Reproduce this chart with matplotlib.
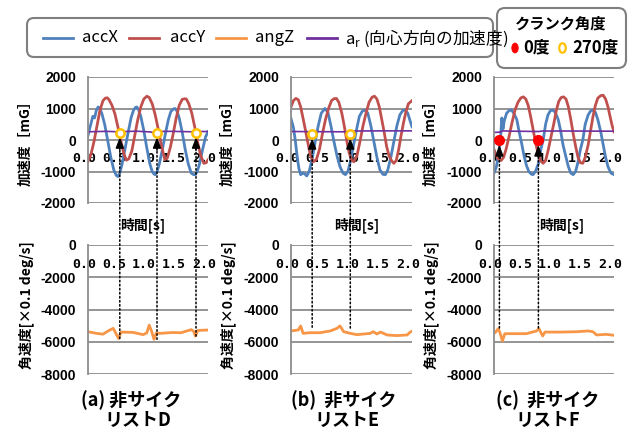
import matplotlib
matplotlib.use('Agg')
import matplotlib.pyplot as plt
from matplotlib.patches import FancyBboxPatch, Ellipse, ConnectionPatch
from matplotlib.lines import Line2D
from matplotlib.transforms import Affine2D, ScaledTranslation

plt.rcParams['font.family'] = ['Noto Sans CJK JP', 'DejaVu Sans']
plt.rcParams['axes.unicode_minus'] = False

# ---------------- data ----------------
panel_captions = [("(a) 非サイク", "リストD"), ("(b)  非サイク", "リストE"), ("(c)  非サイク", "リストF")]
legend_labels = ["accX", "accY", "angZ", "a$_\\mathregular{r}$ (向心方向の加速度)"]
crank_title = "クランク角度"
crank_labels = ["0度", "270度"]
xtick_vals = [0.0, 0.5, 1.0, 1.5, 2.0]
xtick_labels = ["0.0", "0.5", "1.0", "1.5", "2.0"]
acc_ticks = [2000, 1000, 0, -1000, -2000]
acc_tick_labels = ["2000", "1000", "0", "-1000", "-2000"]
ang_ticks = [0, -2000, -4000, -6000, -8000]
ang_tick_labels = ["0", "-2000", "-4000", "-6000", "-8000"]

# panel (a)
accX_a_t = [0.00, 0.04, 0.08, 0.11, 0.14, 0.17, 0.20, 0.23, 0.28, 0.33, 0.38, 0.43, 0.47, 0.50, 0.53, 0.57, 0.62, 0.67, 0.72, 0.76, 0.79, 0.81, 0.84, 0.88, 0.93, 0.98, 1.03, 1.07, 1.10, 1.12, 1.15, 1.19, 1.24, 1.29, 1.34, 1.38, 1.42, 1.45, 1.48, 1.52, 1.57, 1.62, 1.67, 1.72, 1.76, 1.79, 1.82, 1.86, 1.91, 1.96, 2.00]
accX_a_v = [150, 450, 750, 700, 950, 1050, 980, 850, 480, -30, -550, -950, -1120, -1160, -1050, -750, -250, 250, 720, 950, 1030, 1050, 980, 750, 300, -250, -750, -1000, -1080, -1100, -1020, -750, -300, 200, 650, 900, 980, 1000, 930, 700, 250, -300, -750, -1050, -1100, -1100, -1000, -750, -300, 100, 260]
accY_a_t = [0.00, 0.05, 0.10, 0.15, 0.20, 0.25, 0.29, 0.32, 0.35, 0.40, 0.45, 0.50, 0.55, 0.60, 0.64, 0.68, 0.73, 0.78, 0.83, 0.88, 0.93, 0.98, 1.02, 1.07, 1.12, 1.17, 1.22, 1.28, 1.32, 1.37, 1.42, 1.47, 1.52, 1.57, 1.61, 1.64, 1.68, 1.73, 1.78, 1.83, 1.88, 1.93, 1.97, 2.00]
accY_a_v = [-680, -450, -50, 450, 950, 1250, 1330, 1340, 1280, 1100, 820, 400, -50, -450, -640, -600, -350, 150, 650, 1050, 1300, 1390, 1350, 1150, 800, 350, -150, -620, -580, -250, 200, 700, 1100, 1290, 1310, 1300, 1150, 850, 400, -100, -500, -740, -720, -630]
ar_a_t = [0.00, 0.30, 0.45, 0.50, 0.55, 0.80, 1.05, 1.10, 1.15, 1.40, 1.75, 1.80, 1.85, 2.00]
ar_a_v = [260, 275, 265, 230, 265, 280, 255, 220, 270, 275, 260, 235, 270, 270]
angZ_a_t = [0.00, 0.14, 0.25, 0.35, 0.42, 0.46, 0.51, 0.55, 0.75, 0.92, 0.98, 1.02, 1.06, 1.10, 1.14, 1.20, 1.40, 1.55, 1.72, 1.76, 1.79, 1.83, 2.00]
angZ_a_v = [-5380, -5480, -5530, -5300, -5170, -5450, -5800, -5400, -5420, -5560, -5450, -4970, -5350, -5850, -5450, -5480, -5430, -5440, -5250, -5350, -5650, -5300, -5270]
mark_a_t = [0.53, 1.15, 1.80]
mark_a_v = [230, 230, 230]
arrow_a_tip = [90, 90, 90]
arrow_a_bottom = [-5800, -5850, -5650]

# panel (b)
accX_b_t = [0.00, 0.04, 0.07, 0.10, 0.13, 0.16, 0.20, 0.23, 0.26, 0.30, 0.35, 0.40, 0.45, 0.50, 0.56, 0.61, 0.66, 0.71, 0.76, 0.81, 0.86, 0.90, 0.94, 0.98, 1.03, 1.08, 1.13, 1.18, 1.23, 1.27, 1.32, 1.37, 1.42, 1.47, 1.52, 1.56, 1.60, 1.65, 1.70, 1.75, 1.80, 1.85, 1.89, 1.93, 1.97, 2.00]
accX_b_v = [680, 400, 0, -500, -900, -1100, -1050, -1080, -1140, -1000, -600, -50, 450, 850, 1000, 880, 450, -50, -500, -850, -1050, -1100, -1000, -700, -200, 300, 750, 920, 950, 850, 450, -50, -550, -950, -1090, -1100, -950, -550, -50, 450, 800, 940, 950, 850, 600, 420]
accY_b_t = [0.00, 0.04, 0.08, 0.12, 0.16, 0.20, 0.24, 0.28, 0.32, 0.37, 0.42, 0.47, 0.52, 0.57, 0.62, 0.67, 0.71, 0.75, 0.79, 0.84, 0.88, 0.92, 0.96, 1.00, 1.04, 1.09, 1.14, 1.19, 1.24, 1.29, 1.34, 1.38, 1.42, 1.46, 1.50, 1.54, 1.58, 1.62, 1.66, 1.70, 1.74, 1.78, 1.82, 1.86, 1.90, 1.94, 2.00]
accY_b_v = [1050, 1250, 1320, 1280, 1050, 680, 300, -100, -480, -690, -620, -300, 200, 650, 1000, 1250, 1310, 1320, 1200, 850, 450, 0, -400, -640, -690, -500, -50, 450, 850, 1200, 1360, 1390, 1300, 1050, 650, 250, -200, -500, -650, -740, -650, -300, 150, 550, 900, 1150, 1250]
ar_b_t = [0.00, 0.30, 0.35, 0.40, 0.90, 0.98, 1.05, 1.50, 2.00]
ar_b_v = [270, 265, 240, 265, 260, 245, 285, 290, 290]
angZ_b_t = [0.00, 0.12, 0.16, 0.20, 0.31, 0.48, 0.65, 0.76, 0.81, 0.87, 0.98, 1.09, 1.31, 1.36, 1.42, 1.48, 1.59, 1.75, 1.92, 1.97, 2.00]
angZ_b_v = [-5330, -5270, -5020, -5480, -5440, -5440, -5330, -5170, -5020, -5375, -5480, -5560, -5480, -5375, -5520, -5400, -5580, -5620, -5580, -5400, -5350]
mark_b_t = [0.35, 0.98]
mark_b_v = [200, 200]
arrow_b_tip = [60, 60]
arrow_b_bottom = [-5100, -5150]

# panel (c)
accX_c_t = [0.00, 0.04, 0.08, 0.11, 0.13, 0.15, 0.17, 0.21, 0.25, 0.29, 0.33, 0.38, 0.42, 0.46, 0.50, 0.54, 0.58, 0.62, 0.65, 0.69, 0.74, 0.78, 0.82, 0.86, 0.90, 0.94, 0.98, 1.02, 1.07, 1.11, 1.15, 1.20, 1.24, 1.28, 1.32, 1.36, 1.40, 1.44, 1.48, 1.52, 1.57, 1.61, 1.65, 1.69, 1.73, 1.78, 1.82, 1.86, 1.90, 1.95, 2.00]
accX_c_v = [-1050, -850, -400, 100, 700, 350, 600, 850, 930, 950, 850, 650, 250, -100, -500, -800, -1000, -1080, -1100, -1000, -750, -300, 0, 500, 800, 930, 950, 880, 650, 300, -150, -550, -850, -1050, -1100, -1000, -700, -300, 0, 500, 800, 920, 950, 880, 650, 250, -150, -550, -850, -1050, -1100]
accY_c_t = [0.00, 0.04, 0.08, 0.12, 0.16, 0.20, 0.25, 0.30, 0.35, 0.40, 0.45, 0.49, 0.53, 0.57, 0.61, 0.65, 0.69, 0.73, 0.77, 0.82, 0.86, 0.90, 0.95, 1.00, 1.04, 1.08, 1.12, 1.16, 1.20, 1.24, 1.28, 1.32, 1.36, 1.40, 1.44, 1.48, 1.52, 1.57, 1.61, 1.65, 1.69, 1.73, 1.78, 1.82, 1.86, 1.90, 1.94, 1.97, 2.00]
accY_c_v = [-300, -500, -620, -650, -550, -300, 100, 550, 950, 1200, 1340, 1370, 1300, 1100, 750, 350, -50, -400, -650, -740, -650, -350, 100, 550, 950, 1230, 1350, 1370, 1300, 1050, 650, 200, -200, -550, -720, -740, -550, -150, 300, 750, 1100, 1330, 1410, 1420, 1300, 1050, 700, 450, 260]
ar_c_t = [0.00, 0.10, 0.15, 0.30, 0.75, 0.80, 1.20, 2.00]
ar_c_v = [240, 250, 290, 280, 270, 285, 285, 280]
angZ_c_t = [0.00, 0.02, 0.07, 0.10, 0.14, 0.18, 0.32, 0.54, 0.71, 0.75, 0.81, 0.85, 1.10, 1.37, 1.57, 1.65, 1.71, 1.87, 2.00]
angZ_c_v = [-5450, -5440, -5190, -5440, -5950, -5500, -5500, -5500, -5330, -5190, -5640, -5400, -5400, -5380, -5330, -5380, -5580, -5540, -5600]
mark_c_t = [0.09, 0.74]
mark_c_v = [0, 0]
arrow_c_tip = [-160, -160]
arrow_c_bottom = [-5150, -5150]

# ---------------- style ----------------
C_X = "#4F81BD"
C_Y = "#C0504D"
C_Z = "#F79646"
C_R = "#7030A0"
GRID = "#8C8C8C"
W, H = 632, 430

fig = plt.figure(figsize=(W / 100, H / 100), dpi=100)
P = Affine2D().scale(0.01) + fig.dpi_scale_trans  # pixel coords (origin bottom-left)

lefts = [88, 291, 494]
rights = [208, 412, 614]
ylab_x = [25, 227, 430]
time_lab_x = [143, 357, 562]
cap1_x = [131, 344, 548]
cap2_x = [138, 347, 548]

panels = [
    dict(ax_t=accX_a_t, ax_v=accX_a_v, ay_t=accY_a_t, ay_v=accY_a_v, ar_t=ar_a_t, ar_v=ar_a_v,
         az_t=angZ_a_t, az_v=angZ_a_v, mt=mark_a_t, mv=mark_a_v, tip=arrow_a_tip, bot=arrow_a_bottom, kind=270),
    dict(ax_t=accX_b_t, ax_v=accX_b_v, ay_t=accY_b_t, ay_v=accY_b_v, ar_t=ar_b_t, ar_v=ar_b_v,
         az_t=angZ_b_t, az_v=angZ_b_v, mt=mark_b_t, mv=mark_b_v, tip=arrow_b_tip, bot=arrow_b_bottom, kind=270),
    dict(ax_t=accX_c_t, ax_v=accX_c_v, ay_t=accY_c_t, ay_v=accY_c_v, ar_t=ar_c_t, ar_v=ar_c_v,
         az_t=angZ_c_t, az_v=angZ_c_v, mt=mark_c_t, mv=mark_c_v, tip=arrow_c_tip, bot=arrow_c_bottom, kind=0),
]


def style_axes(ax, yt, ylabs, ylim):
    ax.set_xlim(0, 2.0)
    ax.set_ylim(*ylim)
    for s in ['top', 'right', 'bottom']:
        ax.spines[s].set_visible(False)
    ax.spines['left'].set_color(GRID)
    ax.spines['left'].set_linewidth(1.3)
    ax.set_yticks(yt)
    ax.set_yticklabels(ylabs, fontfamily='Liberation Sans', fontweight='bold', fontsize=10)
    ax.tick_params(axis='y', length=0, pad=8.6)
    ax.set_xticks([])
    ax.grid(axis='y', color=GRID, lw=1.3)
    ax.set_axisbelow(True)
    ax.patch.set_alpha(0)
    off = ScaledTranslation(-4 / 100, -19 / 100, fig.dpi_scale_trans)
    for v, lab in zip(xtick_vals, xtick_labels):
        ax.text(v, 0, lab, transform=ax.transData + off, ha='center', va='center',
                fontfamily='DejaVu Sans Mono', fontweight='bold', fontsize=9.5, zorder=1.5)


for i, pnl in enumerate(panels):
    L, R = lefts[i], rights[i]
    ax_top = fig.add_axes([L / W, 1 - 203 / H, (R - L) / W, 126 / H])
    ax_bot = fig.add_axes([L / W, 1 - 374 / H, (R - L) / W, 129 / H])
    style_axes(ax_top, acc_ticks, acc_tick_labels, (-2000, 2000))
    style_axes(ax_bot, ang_ticks, ang_tick_labels, (-8000, 0))

    ax_top.plot(pnl['ax_t'], pnl['ax_v'], color=C_X, lw=2.0, zorder=2)
    ax_top.plot(pnl['ay_t'], pnl['ay_v'], color=C_Y, lw=2.0, zorder=2.1)
    ax_top.plot(pnl['ar_t'], pnl['ar_v'], color=C_R, lw=1.2, zorder=2.2)
    ax_bot.plot(pnl['az_t'], pnl['az_v'], color=C_Z, lw=2.0, zorder=2)

    # arrows
    for t, tip, bot in zip(pnl['mt'], pnl['tip'], pnl['bot']):
        con = ConnectionPatch(xyA=(t, bot), coordsA=ax_bot.transData,
                              xyB=(t, tip - 250), coordsB=ax_top.transData,
                              color='k', lw=1.1, linestyle=':', zorder=3)
        fig.add_artist(con)
        ax_top.annotate('', xy=(t, tip), xytext=(t, tip - 420),
                        arrowprops=dict(arrowstyle='-|>,head_length=0.65,head_width=0.25',
                                        color='k', lw=1.0, shrinkA=0, shrinkB=0), zorder=3)
    # markers
    if pnl['kind'] == 270:
        ax_top.plot(pnl['mt'], pnl['mv'], ls='none', marker='o', ms=6, mfc='white',
                    mec='#FFC000', mew=1.8, zorder=4)
    else:
        ax_top.plot(pnl['mt'], pnl['mv'], ls='none', marker='o', ms=7, mfc='#FF0000',
                    mec='#FF0000', zorder=4)

    # labels
    fig.text(ylab_x[i], H - 140, "加速度［mG］", rotation=90, ha='center', va='center',
             fontsize=10, fontweight='bold', transform=P)
    fig.text(ylab_x[i] + 1, H - 305, "角速度[×0.1 deg/s]", rotation=90, ha='center', va='center',
             fontsize=10, fontweight='bold', transform=P)
    fig.text(time_lab_x[i], H - 225, "時間[s]", ha='center', va='center',
             fontsize=10, fontweight='bold', transform=P)
    fig.text(cap1_x[i], H - 400, panel_captions[i][0], ha='center', va='center',
             fontsize=13, fontweight='bold', transform=P)
    fig.text(cap2_x[i], H - 420, panel_captions[i][1], ha='center', va='center',
             fontsize=13, fontweight='bold', transform=P)

# ---------------- legend boxes ----------------
box1 = FancyBboxPatch((27, H - 57), 466, 39, boxstyle='round,pad=0,rounding_size=7',
                      transform=P, fc='white', ec='#7F7F7F', lw=1.5)
box2 = FancyBboxPatch((497, H - 68), 129, 60, boxstyle='round,pad=0,rounding_size=8',
                      transform=P, fc='white', ec='#7F7F7F', lw=1.5)
fig.add_artist(box1)
fig.add_artist(box2)

leg_line_x = [43, 129, 216, 307]
leg_text_x = [82, 170, 255, 345]
leg_colors = [C_X, C_Y, C_Z, C_R]
for lx, tx, c, lab in zip(leg_line_x, leg_text_x, leg_colors, legend_labels):
    fig.add_artist(Line2D([lx, lx + 30], [H - 38, H - 38], transform=P, color=c, lw=2.0))
    fig.text(tx, H - 38, lab, transform=P, ha='left', va='center', fontsize=12)

fig.text(561, H - 24, crank_title, transform=P, ha='center', va='center', fontsize=11, fontweight='bold')
fig.add_artist(Ellipse((515, H - 48), 6.5, 10, transform=P, fc='#FF0000', ec='#FF0000', lw=0.5))
fig.text(523, H - 47, crank_labels[0], transform=P, ha='left', va='center', fontsize=12, fontweight='bold')
fig.add_artist(Ellipse((562.5, H - 48), 6.5, 9.5, transform=P, fc='white', ec='#FFC000', lw=1.6))
fig.text(572, H - 47, crank_labels[1], transform=P, ha='left', va='center', fontsize=12, fontweight='bold')

fig.savefig('out.png', dpi=100)
